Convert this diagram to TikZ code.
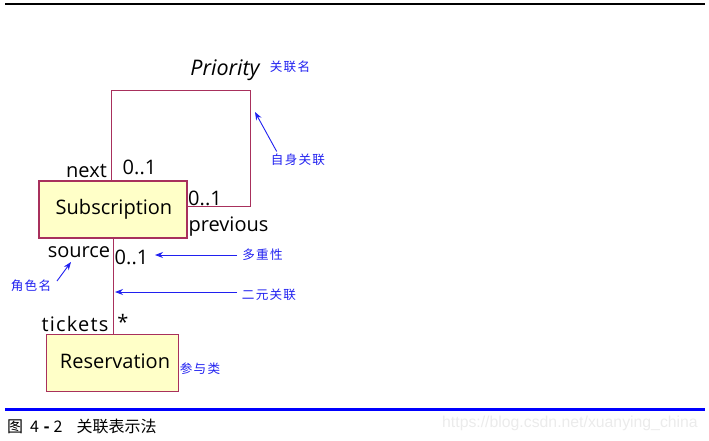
\documentclass[tikz,border=0pt]{standalone}
\usepackage{fontspec}
\setmainfont{Open Sans}
\newfontfamily\cjk{Noto Sans CJK SC}
\newfontfamily\cjknote[LetterSpace=10]{Noto Sans CJK SC}
\newfontfamily\wmfont{Liberation Sans}
\usetikzlibrary{arrows.meta}
\definecolor{umlborder}{HTML}{A8305C}
\definecolor{umlfill}{HTML}{FFFFC8}
\definecolor{noteblue}{HTML}{2020F0}
\tikzset{
  classbox/.style={draw=umlborder, fill=umlfill, line width=1.3pt, inner sep=0pt},
  assoc/.style={draw=umlborder, line width=0.9pt},
  lbl/.style={inner sep=0pt, font=\fontsize{20}{22}\selectfont},
  note/.style={inner sep=0pt, text=noteblue, font=\cjknote\fontsize{12.6}{14}\selectfont},
  notearrow/.style={draw=noteblue, line width=0.9pt, -{Stealth[length=8pt,width=6pt]}},
}
\begin{document}
\begin{tikzpicture}[x=1pt,y=-1pt]
\useasboundingbox (0,0) rectangle (709,441);
% rules
\fill[black] (5,3) rectangle (705,5.5);
\fill[blue] (5,407.5) rectangle (705,410.5);
% classes
\node[classbox, minimum width=148pt, minimum height=57pt] (sub) at (113,209.5) {};
\node[lbl] (subt) at (114,209.5) {Subscription};
\node[classbox, line width=1pt, minimum width=132pt, minimum height=57pt] (res) at (112.5,363) {};
\node[lbl] (rest) at (115,361.5) {Reservation};
% self association
\coordinate (c1) at (111.7,90);
\coordinate (c2) at (250.7,90);
\coordinate (c3) at (250.7,206.7);
\draw[assoc] (sub.north -| c1) -- (c1) -- (c2) -- (c3) -- (sub.east |- c3);
% binary association
\coordinate (c4) at (113.7,300);
\draw[assoc] (sub.south -| c4) -- (res.north -| c4);
% labels
\node[lbl, font=\itshape\fontsize{21.5}{24}\selectfont] (prio) at (225,70) {Priority};
\node[lbl] (next) at (86.5,171) {next};
\node[lbl] (m1) at (139.5,167.5) {0..1};
\node[lbl] (m2) at (205,198.5) {0..1};
\node[lbl] (prev) at (228.5,227) {previous};
\node[lbl] (src) at (79,252) {source};
\node[lbl] (m3) at (131.5,257.5) {0..1};
\node[lbl, font=\fontsize{20}{22}\selectfont\addfontfeatures{LetterSpace=6}] (tick) at (75,324) {tickets};
\node[lbl] (star) at (123,322) {*};
% notes
\node[note] (n1) at (290,67) {关联名};
\node[note] (n2) at (298,160) {自身关联};
\node[note] (n3) at (262.5,255) {多重性};
\node[note] (n4) at (269,295) {二元关联};
\node[note] (n5) at (31,286) {角色名};
\node[note] (n6) at (200,368.5) {参与类};
\coordinate (a1) at (255,112);
\coordinate (t1) at (276.7,151.5);
\coordinate (a3) at (155,255);
\coordinate (t3) at (237,255);
\coordinate (a4) at (115,292);
\coordinate (t4) at (237,292);
\coordinate (a5) at (71,262);
\coordinate (t5) at (57,281);
\draw[notearrow] (t1) -- (a1);
\draw[notearrow] (t3) -- (a3);
\draw[notearrow] (t4) -- (a4);
\draw[notearrow] (t5) -- (a5);
% caption
\node[inner sep=0pt, anchor=west, font=\cjk\fontsize{16}{18}\selectfont] (cap) at (7,426) {图\hspace{7pt}4\hspace{4.5pt}\textbf{-}\hspace{4pt}2\hspace{14pt}关联表示法};
\node[inner sep=0pt, anchor=east, text=black!8, font=\wmfont\fontsize{15.8}{18}\selectfont] (wm) at (698,423) {https://blog.csdn.net/xuanying\_china};
\end{tikzpicture}
\end{document}
